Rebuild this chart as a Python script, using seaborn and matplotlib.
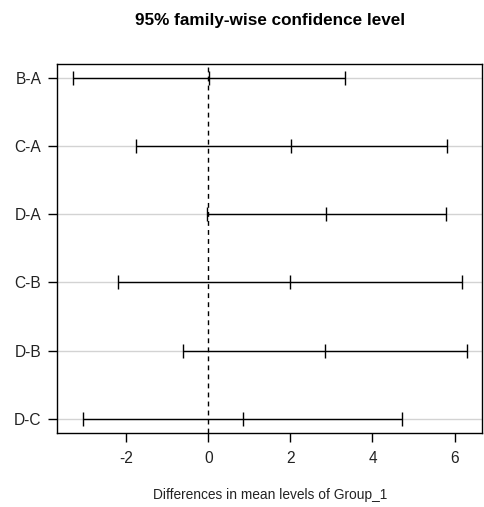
import matplotlib
matplotlib.use("Agg")
import matplotlib.pyplot as plt
import seaborn as sns
import numpy as np
import pandas as pd

comparisons = ["B-A", "C-A", "D-A", "C-B", "D-B", "D-C"]
diff = [0.02, 2.02, 2.87, 1.99, 2.85, 0.85]
lwr = [-3.29, -1.75, -0.02, -2.19, -0.62, -3.05]
upr = [3.34, 5.81, 5.78, 6.19, 6.29, 4.71]
x_ticks = [-2, 0, 2, 4, 6]

sns.set_style("white")
plt.rcParams["font.family"] = ["Liberation Sans", "DejaVu Sans"]

df = pd.DataFrame({"comp": comparisons, "diff": diff, "lwr": lwr, "upr": upr})
n = len(df)
df["pos"] = np.arange(n, 0, -1)

fig = plt.figure(figsize=(4.84, 5.07), dpi=100)
ax_l, ax_b, ax_w, ax_h = 0.1184, 0.1465, 0.8781, 0.7273
ax = fig.add_axes([ax_l, ax_b, ax_w, ax_h])

# horizontal grid lines at each comparison
for p in df["pos"]:
    ax.axhline(p, color="#d3d3d3", lw=1.0, zorder=1)

ax.errorbar(df["diff"], df["pos"],
            xerr=[df["diff"] - df["lwr"], df["upr"] - df["diff"]],
            fmt="none", ecolor="black", elinewidth=1.0, capsize=5, capthick=1.0, zorder=3)
sns.scatterplot(data=df, x="diff", y="pos", marker="|", s=100, color="black",
                linewidth=1.0, ax=ax, zorder=4, legend=False)

ax.axvline(0, color="black", lw=1.0, ls=(0, (3.5, 3)), zorder=2)

xr = max(df["upr"]) - min(df["lwr"])
ax.set_xlim(min(df["lwr"]) - 0.04 * xr, max(df["upr"]) + 0.04 * xr)
ax.set_ylim(0.8, n + 0.2)
ax.set_yticks(df["pos"])
ax.set_yticklabels(df["comp"])
ax.set_xticks(x_ticks)
ax.set_xticklabels([str(t) for t in x_ticks])
ax.tick_params(axis="both", direction="out", length=6.5, width=1.0, color="black",
               labelsize=11.2, labelcolor="#222222", left=True, bottom=True)
ax.tick_params(axis="y", pad=5)
ax.tick_params(axis="x", pad=7)
for s in ax.spines.values():
    s.set_color("black")
    s.set_linewidth(1.0)

ax.set_xlabel("")
ax.set_ylabel("")
cx = ax_l + ax_w / 2
fig.text(cx, 1 - 495 / 507, "Differences in mean levels of Group_1", fontsize=9.9,
         ha="center", va="center", color="#222222")
fig.text(cx, 1 - 20 / 507, "95% family-wise confidence level", fontsize=12.3,
         fontweight="bold", ha="center", va="center", color="black")

fig.savefig("out.png", dpi=100)
